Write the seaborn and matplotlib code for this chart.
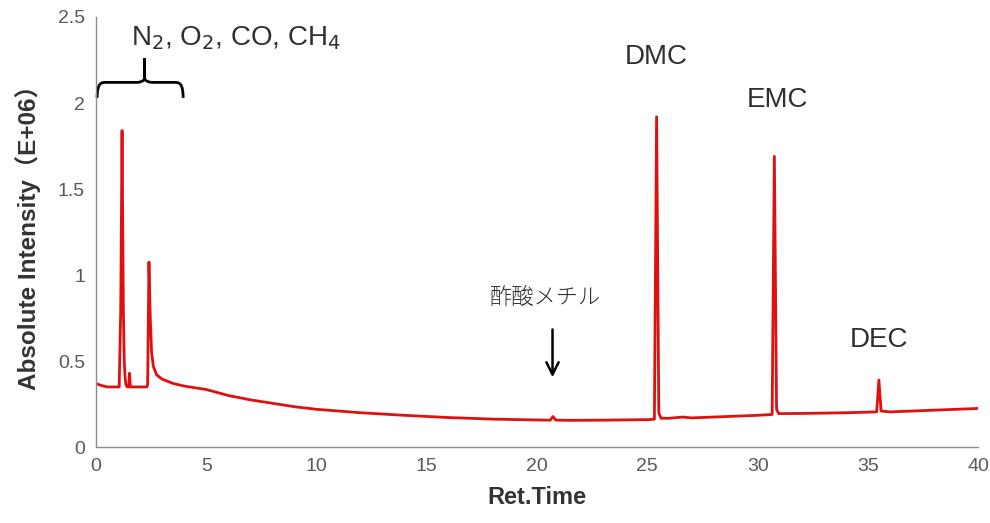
import matplotlib
matplotlib.use("Agg")
import matplotlib.pyplot as plt
import seaborn as sns
import pandas as pd
from matplotlib.path import Path
from matplotlib.patches import PathPatch

# Chromatogram trace (time in min, intensity in E+06)
ret_time = [0.0, 0.2, 0.5, 0.8, 1.05, 1.12, 1.18, 1.24, 1.28, 1.32, 1.36, 1.42, 1.48, 1.52, 1.56,
            1.7, 2.0, 2.3, 2.34, 2.40, 2.46, 2.52, 2.6, 2.75, 3.0, 3.5, 4.0, 5.0, 6.0, 7.0,
            7.5, 8.0, 9.0, 10.0, 12.0, 14.0, 16.0, 18.0, 20.0, 20.6, 20.72, 20.85, 21.5, 23.0,
            25.0, 25.32, 25.42, 25.52, 25.62, 26.0, 26.6, 27.0, 28.0, 30.0, 30.66, 30.76, 30.86,
            30.96, 32.0, 34.0, 35.4, 35.5, 35.6, 36.0, 38.0, 40.0]
intensity = [0.37, 0.36, 0.35, 0.35, 0.35, 0.8, 1.84, 0.8, 0.5, 0.4, 0.36, 0.35, 0.35, 0.43, 0.35,
             0.35, 0.35, 0.35, 0.36, 1.075, 0.75, 0.55, 0.47, 0.42, 0.395, 0.37, 0.355, 0.335, 0.30, 0.275,
             0.265, 0.255, 0.235, 0.22, 0.20, 0.185, 0.172, 0.163, 0.158, 0.157, 0.178, 0.157, 0.156, 0.157,
             0.160, 0.162, 1.92, 0.20, 0.168, 0.168, 0.175, 0.17, 0.175, 0.185, 0.19, 1.69, 0.22,
             0.195, 0.196, 0.2, 0.205, 0.39, 0.21, 0.205, 0.215, 0.225]

x_ticks = [0, 5, 10, 15, 20, 25, 30, 35, 40]
y_ticks = [0, 0.5, 1, 1.5, 2, 2.5]
y_tick_labels = ["0", "0.5", "1", "1.5", "2", "2.5"]

sns.set_theme(style="white")
plt.rcParams['font.family'] = ['Liberation Sans', 'Noto Sans CJK JP', 'DejaVu Sans']

fig = plt.figure(figsize=(9.9, 5.23), dpi=100)
ax = fig.add_axes([0.097, 0.145, 0.891, 0.8225])

df = pd.DataFrame({"t": ret_time, "i": intensity})
sns.lineplot(data=df, x="t", y="i", ax=ax, color="#e01010", linewidth=2.0,
             estimator=None, sort=False)

ax.set_xlim(0, 40)
ax.set_ylim(0, 2.5)
ax.set_xticks(x_ticks)
ax.set_yticks(y_ticks)
ax.set_yticklabels(y_tick_labels)
ax.tick_params(axis="both", length=0, labelsize=14, colors="#595959", pad=8)
ax.set_xticklabels([str(v) for v in x_ticks])

for s in ["top", "right"]:
    ax.spines[s].set_visible(False)
for s in ["left", "bottom"]:
    ax.spines[s].set_color("#8c8c8c")
    ax.spines[s].set_linewidth(1.0)

ax.set_xlabel("Ret.Time", fontsize=17, fontweight="bold", color="#333333", labelpad=8)
ax.set_ylabel("Absolute Intensity（E+06）", fontsize=17.5, fontweight="bold", color="#333333",
              family=['Liberation Sans', 'Noto Sans CJK JP'], labelpad=12)

txt_color = "#303030"
ax.text(1.6, 2.38, r"N$_2$, O$_2$, CO, CH$_4$", fontsize=20, color=txt_color,
        ha="left", va="center")
ax.text(25.4, 2.27, "DMC", fontsize=20, color=txt_color, ha="center", va="center")
ax.text(30.9, 2.02, "EMC", fontsize=20, color=txt_color, ha="center", va="center")
ax.text(35.5, 0.62, "DEC", fontsize=20, color=txt_color, ha="center", va="center")
ax.text(20.4, 0.87, "酢酸メチル", fontsize=16, color=txt_color, ha="center", va="center",
        family=['Noto Sans CJK JP'], fontweight="light")
ax.annotate("", xy=(20.7, 0.39), xytext=(20.7, 0.70),
            arrowprops=dict(arrowstyle="->", color="black", lw=1.8, mutation_scale=22))

# curly brace over the early peaks
x0, x1, xm = 0.05, 3.95, 2.2
yb, yh, yt = 2.03, 2.12, 2.26
verts = [(x0, yb), (x0, yh), (x0 + 0.2, yh), (x0 + 0.4, yh),
         (xm - 0.35, yh), (xm - 0.1, yh), (xm, yh + 0.02),
         (xm, yt), (xm, yh + 0.02),
         (xm + 0.1, yh), (xm + 0.35, yh),
         (x1 - 0.4, yh), (x1 - 0.2, yh), (x1, yh), (x1, yb)]
codes = [Path.MOVETO, Path.CURVE4, Path.CURVE4, Path.CURVE4,
         Path.LINETO, Path.CURVE3, Path.CURVE3,
         Path.LINETO, Path.LINETO,
         Path.CURVE3, Path.CURVE3,
         Path.LINETO, Path.CURVE4, Path.CURVE4, Path.CURVE4]
ax.add_patch(PathPatch(Path(verts, codes), fill=False, lw=2.0, edgecolor="black",
                       clip_on=False))

fig.savefig("out.png", dpi=100)
